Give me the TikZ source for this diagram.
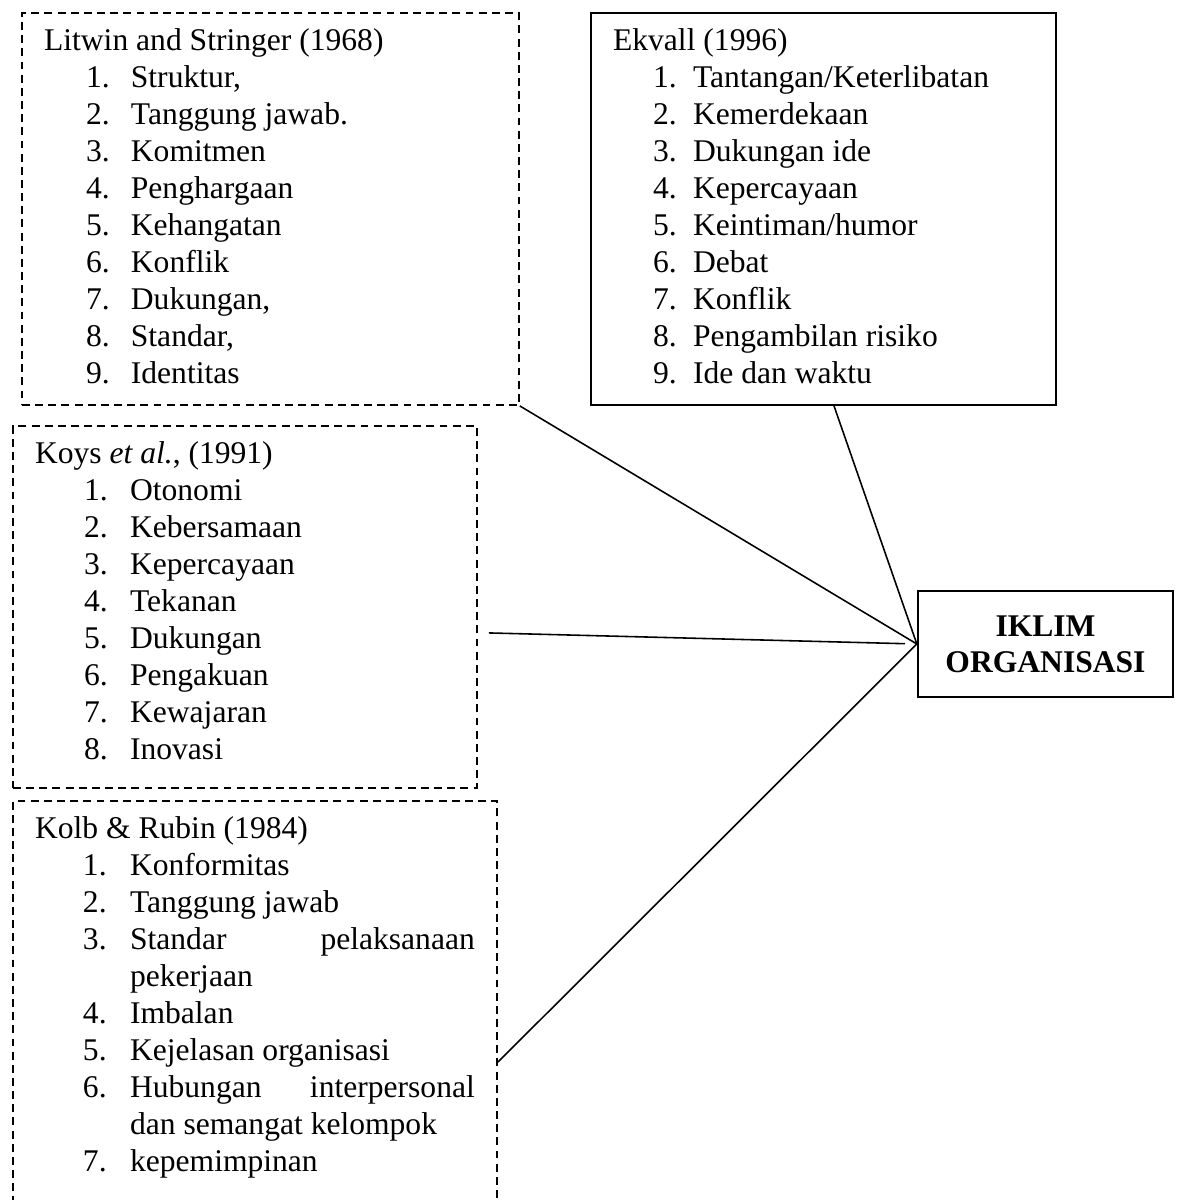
\documentclass[tikz,border=0pt]{standalone}
\usepackage{fontspec}
\setmainfont{Liberation Serif}
\usetikzlibrary{positioning}

\newlength\numind
\newlength\txtind
\newcommand{\indents}[2]{\setlength\numind{#1}\setlength\txtind{#2}}
\newcommand{\head}[1]{\leftskip=0pt\noindent\rule{0pt}{14.4pt}#1\par}
\newcommand{\itm}[2]{\leftskip=\txtind\noindent\llap{\makebox[\dimexpr\txtind-\numind\relax][l]{#1.}}#2\par}
\newcommand{\gap}[1]{\rule[-#1]{0pt}{#1}}

\begin{document}
\begin{tikzpicture}[x=0.38pt, y=-0.38pt,
  font=\fontsize{12}{14.06}\selectfont,
  box/.style={draw, line width=0.75pt, anchor=north west, align=justify, inner xsep=8.4pt, inner ysep=0pt,
              font={\fontsize{12}{14.06}\selectfont\parskip=0pt\tolerance=10000\hyphenpenalty=10000}},
  dbox/.style={box, dash pattern=on 3pt off 2pt},
  mainbox/.style={draw, line width=0.9pt, align=center, inner sep=0pt,
                  minimum width=96.9pt, minimum height=40.3pt, font=\fontsize{12}{13.7}\selectfont\bfseries},
  link/.style={line width=0.6pt}]

\useasboundingbox (0,0) rectangle (1178,1200);
\clip (0,0) rectangle (1178,1200);

\node[dbox, text width=172pt] (litwin) at (21,12) {\indents{16pt}{33pt}%
  \head{Litwin and Stringer (1968)}
  \itm{1}{Struktur,}
  \itm{2}{Tanggung jawab.}
  \itm{3}{Komitmen}
  \itm{4}{Penghargaan}
  \itm{5}{Kehangatan}
  \itm{6}{Konflik}
  \itm{7}{Dukungan,}
  \itm{8}{Standar,}
  \itm{9}{Identitas\gap{8pt}}};

\node[box, text width=159.9pt] (ekvall) at (590,12) {\indents{15.2pt}{30.4pt}%
  \head{Ekvall (1996)}
  \itm{1}{Tantangan/Keterlibatan}
  \itm{2}{Kemerdekaan}
  \itm{3}{Dukungan ide}
  \itm{4}{Kepercayaan}
  \itm{5}{Keintiman/humor}
  \itm{6}{Debat}
  \itm{7}{Konflik}
  \itm{8}{Pengambilan risiko}
  \itm{9}{Ide dan waktu\gap{8pt}}};

\node[dbox, text width=159.5pt] (koys) at (12,425) {\indents{18.6pt}{36.1pt}%
  \head{Koys \textit{et al.}, (1991)}
  \itm{1}{Otonomi}
  \itm{2}{Kebersamaan}
  \itm{3}{Kepercayaan}
  \itm{4}{Tekanan}
  \itm{5}{Dukungan}
  \itm{6}{Pengakuan}
  \itm{7}{Kewajaran}
  \itm{8}{Inovasi\gap{10.6pt}}};

% runs past the bottom edge of the page
\node[dbox, text width=167.1pt] (kolb) at (12,800) {\indents{18.2pt}{36.1pt}%
  \head{Kolb \& Rubin (1984)}
  \itm{1}{Konformitas}
  \itm{2}{Tanggung jawab}
  \itm{3}{Standar pelaksanaan pekerjaan}
  \itm{4}{Imbalan}
  \itm{5}{Kejelasan organisasi}
  \itm{6}{Hubungan interpersonal dan semangat kelompok}
  \itm{7}{kepemimpinan\gap{16pt}}};

\node[mainbox] (iklim) at (1045.5,644) {IKLIM\\ORGANISASI};

\draw[link] (litwin.south east) -- (iklim.west);
\draw[link] ([xshift=4pt]ekvall.south) -- (iklim.west);
\draw[link, shorten >=4.5pt] ([xshift=4.2pt, yshift=-9.9pt]koys.east) -- (iklim.west);
\draw[link] ([yshift=-99.6pt]kolb.north east) -- (iklim.west);

\end{tikzpicture}
\end{document}
